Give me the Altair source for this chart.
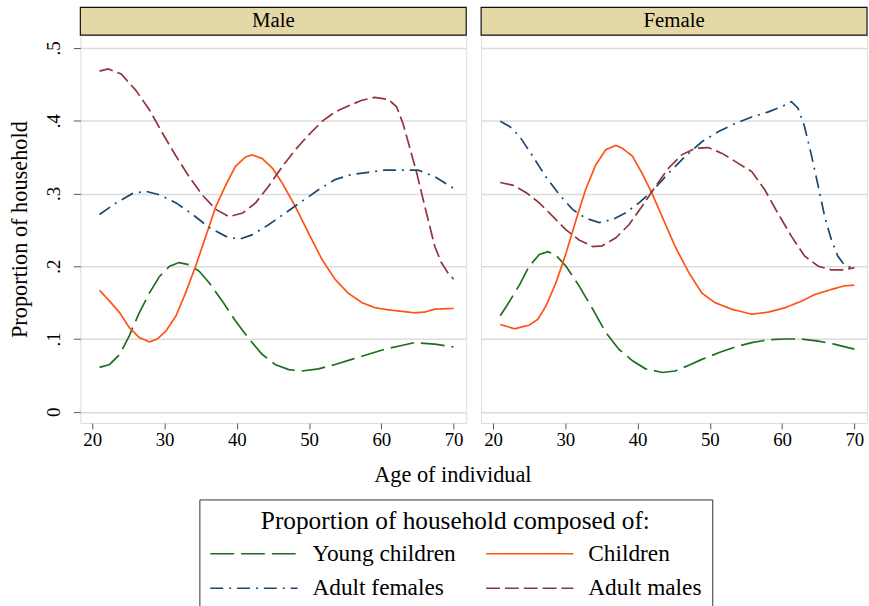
import altair as alt
import pandas as pd

SERIES = ["Young children", "Children", "Adult females", "Adult males"]
COLORS = ["#1c6e1c", "#ff5214", "#1a476f", "#90353b"]
DASHES = [[24, 7], [1, 0], [13, 6, 2, 6], [14, 5]]

# ---------------- Male panel ----------------
m_young_age = [21, 22.4, 23.8, 25.1, 26.5, 27.9, 29.3, 30.7, 32.0, 33.4, 34.8, 36.2, 38.0, 39.8, 41.7, 43.5, 45.3, 47.2, 49.0, 51.3, 53.6, 55.9, 58.2, 60.5, 62.8, 64.6, 67.4, 70]
m_young_val = [0.061, 0.065, 0.079, 0.104, 0.136, 0.163, 0.186, 0.200, 0.205, 0.202, 0.193, 0.177, 0.152, 0.125, 0.100, 0.079, 0.065, 0.058, 0.056, 0.059, 0.065, 0.072, 0.079, 0.086, 0.091, 0.095, 0.093, 0.089]

m_child_age = [21, 22.4, 23.8, 25.1, 26.5, 27.9, 29.0, 30.2, 31.6, 32.9, 34.3, 35.7, 37.1, 38.5, 39.8, 41.2, 42.1, 43.5, 44.9, 46.3, 48.1, 49.9, 51.8, 53.6, 55.4, 57.3, 59.1, 61.0, 62.8, 64.6, 66.0, 67.4, 70]
m_child_val = [0.167, 0.152, 0.136, 0.116, 0.102, 0.096, 0.100, 0.111, 0.132, 0.163, 0.200, 0.241, 0.282, 0.312, 0.337, 0.350, 0.353, 0.348, 0.335, 0.314, 0.282, 0.246, 0.209, 0.182, 0.163, 0.150, 0.143, 0.140, 0.138, 0.136, 0.137, 0.141, 0.142]

m_afem_age = [21, 23.3, 25.6, 27.4, 29.3, 31.6, 33.9, 36.2, 38.5, 40.3, 42.1, 44.4, 46.7, 49.0, 51.3, 53.6, 55.9, 58.2, 60.5, 62.8, 65.1, 67.4, 70]
m_afem_val = [0.271, 0.287, 0.300, 0.303, 0.298, 0.287, 0.271, 0.253, 0.241, 0.237, 0.243, 0.257, 0.273, 0.289, 0.305, 0.319, 0.326, 0.329, 0.332, 0.332, 0.332, 0.323, 0.307]

m_amal_age = [21, 22.2, 24, 26, 27.9, 29.7, 31.6, 33.4, 35.2, 37.1, 38.9, 40.8, 42.6, 44.4, 46.3, 48.1, 49.9, 51.8, 53.6, 55.4, 57.3, 59.1, 61.0, 62.1, 63.0, 63.9, 64.9, 65.8, 66.7, 67.4, 68.3, 69.2, 70]
m_amal_val = [0.468, 0.471, 0.464, 0.442, 0.415, 0.383, 0.351, 0.323, 0.298, 0.278, 0.268, 0.273, 0.287, 0.310, 0.337, 0.360, 0.380, 0.399, 0.412, 0.420, 0.428, 0.432, 0.429, 0.419, 0.396, 0.364, 0.328, 0.291, 0.255, 0.227, 0.205, 0.191, 0.182]

# ---------------- Female panel ----------------
f_young_age = [21, 22.3, 23.7, 25.0, 26.4, 27.6, 28.7, 30.1, 31.9, 33.8, 35.6, 37.4, 39.3, 41.1, 43.4, 45.2, 47.1, 48.9, 51.2, 53.5, 55.8, 58.1, 60.4, 62.7, 65.0, 67.2, 70]
f_young_val = [0.132, 0.152, 0.175, 0.200, 0.216, 0.220, 0.215, 0.200, 0.173, 0.141, 0.109, 0.086, 0.070, 0.059, 0.054, 0.056, 0.064, 0.072, 0.081, 0.089, 0.095, 0.099, 0.100, 0.100, 0.097, 0.093, 0.086]

f_child_age = [21, 23.0, 25.0, 26.2, 27.3, 28.7, 30.1, 31.5, 32.8, 34.2, 35.6, 37.0, 37.9, 39.3, 40.6, 42.0, 43.4, 45.2, 47.1, 48.9, 50.7, 53.0, 55.8, 58.1, 60.4, 62.7, 64.5, 66.8, 68.6, 70]
f_child_val = [0.120, 0.114, 0.119, 0.127, 0.145, 0.177, 0.218, 0.264, 0.305, 0.339, 0.360, 0.366, 0.362, 0.351, 0.328, 0.300, 0.268, 0.227, 0.191, 0.163, 0.150, 0.141, 0.134, 0.137, 0.143, 0.152, 0.161, 0.168, 0.173, 0.174]

f_afem_age = [21, 22.3, 23.7, 25.5, 27.3, 29.2, 31.0, 32.8, 34.7, 36.5, 38.3, 40.2, 42.0, 44.3, 46.6, 48.9, 51.2, 53.5, 55.8, 58.1, 59.9, 61.3, 62.2, 63.1, 64.0, 65.0, 65.9, 66.8, 67.7, 68.6, 70]
f_afem_val = [0.399, 0.392, 0.378, 0.351, 0.323, 0.298, 0.278, 0.266, 0.260, 0.264, 0.273, 0.287, 0.303, 0.328, 0.351, 0.371, 0.385, 0.396, 0.405, 0.412, 0.419, 0.426, 0.417, 0.392, 0.355, 0.310, 0.268, 0.237, 0.214, 0.202, 0.196]

f_amal_age = [21, 22.8, 24.6, 26.4, 28.3, 30.1, 31.9, 33.8, 35.1, 37.0, 38.8, 40.6, 42.5, 44.3, 46.1, 48.0, 49.8, 51.7, 53.5, 55.8, 57.6, 59.4, 61.3, 63.1, 65.0, 66.8, 68.6, 70]
f_amal_val = [0.315, 0.311, 0.301, 0.287, 0.268, 0.250, 0.236, 0.227, 0.228, 0.239, 0.257, 0.282, 0.310, 0.335, 0.353, 0.362, 0.363, 0.355, 0.344, 0.330, 0.305, 0.273, 0.241, 0.214, 0.200, 0.195, 0.195, 0.198]

X_TICKS = [20, 30, 40, 50, 60, 70]
Y_TICKS = [0, 0.1, 0.2, 0.3, 0.4, 0.5]

rows = []
def add(sex, series, ages, vals):
    for i, (a, v) in enumerate(zip(ages, vals)):
        rows.append({"sex": sex, "series": series, "age": a, "value": v, "ord": i})

add("Male", "Young children", m_young_age, m_young_val)
add("Male", "Children", m_child_age, m_child_val)
add("Male", "Adult females", m_afem_age, m_afem_val)
add("Male", "Adult males", m_amal_age, m_amal_val)
add("Female", "Young children", f_young_age, f_young_val)
add("Female", "Children", f_child_age, f_child_val)
add("Female", "Adult females", f_afem_age, f_afem_val)
add("Female", "Adult males", f_amal_age, f_amal_val)
df = pd.DataFrame(rows)

FONT = "Liberation Serif"
W, H = 389, 391
STRIP = 28

legend = alt.Legend(
    title="Proportion of household composed of:",
    orient="none", legendX=120, legendY=468, direction="horizontal",
    columns=2, symbolType="M-1,0H7", symbolSize=484, symbolStrokeWidth=1.7,
    labelFontSize=23.5, titleFontSize=25.5, labelFont=FONT, titleFont=FONT,
    titleFontWeight="normal", titleAnchor="middle", titleAlign="center",
    labelColor="#000", titleColor="#000", labelOffset=80, columnPadding=26,
    rowPadding=11, titlePadding=7, strokeColor="#333", padding=10,
    labelLimit=400, titleLimit=600,
)


def panel(sex, show_y):
    data = df[df["sex"] == sex]
    if show_y:
        yaxis = alt.Axis(values=Y_TICKS, grid=True, gridColor="#dcdcdc", gridWidth=1.5,
                         labelExpr="datum.value == 0 ? '0' : '.' + round(datum.value * 10)",
                         labelAngle=-90, labelAlign="center", labelBaseline="bottom",
                         labelFontSize=19, labelFont=FONT, labelColor="#000",
                         labelPadding=10, tickSize=7, tickColor="#555", domain=False,
                         title="Proportion of household", titleFontSize=22.5, titleFont=FONT,
                         titleFontWeight="normal", titleColor="#000", titlePadding=13)
        xtitle = dict(title="Age of individual", titleX=375, titleY=52, titleAlign="center",
                      titleBaseline="middle", titleFontSize=22.5, titleFont=FONT,
                      titleFontWeight="normal", titleColor="#000")
    else:
        yaxis = alt.Axis(values=Y_TICKS, grid=True, gridColor="#dcdcdc", gridWidth=1.5,
                         labels=False, ticks=False, domain=False, title=None)
        xtitle = dict(title=None)
    lines = alt.Chart(data).mark_line(strokeWidth=1.7).encode(
        x=alt.X("age:Q", scale=alt.Scale(domain=[18.35, 71.75], nice=False, zero=False),
                axis=alt.Axis(values=X_TICKS, grid=False, domain=False, tickSize=6,
                              tickColor="#555", labelFontSize=19, labelFont=FONT,
                              labelColor="#000", labelPadding=2, **xtitle)),
        y=alt.Y("value:Q", scale=alt.Scale(domain=[-0.0155, 0.5174], nice=False, zero=False),
                axis=yaxis),
        color=alt.Color("series:N", scale=alt.Scale(domain=SERIES, range=COLORS), legend=legend),
        strokeDash=alt.StrokeDash("series:N", scale=alt.Scale(domain=SERIES, range=DASHES), legend=legend),
        detail="series:N",
        order="ord:Q",
    )
    strip_df = pd.DataFrame({"label": [sex]})
    strip = alt.Chart(strip_df).mark_rect(fill="#e4d9a6", stroke="#111", strokeWidth=1.2).encode(
        x=alt.value(0), x2=alt.value(W), y=alt.value(-STRIP), y2=alt.value(0))
    label = alt.Chart(strip_df).mark_text(font=FONT, fontSize=21, color="#000", baseline="middle").encode(
        x=alt.value(W / 2), y=alt.value(-STRIP / 2), text="label:N")
    return alt.layer(lines, strip, label).properties(width=W, height=H)


chart = alt.hconcat(panel("Male", True), panel("Female", False), spacing=15, bounds="flush").properties(
    padding={"left": 8, "top": 3, "right": 0, "bottom": 0},
).configure_view(stroke="#111", strokeWidth=1.2).configure(background="white")

chart.save("out.html", embed_options={"renderer": "svg", "actions": False})
